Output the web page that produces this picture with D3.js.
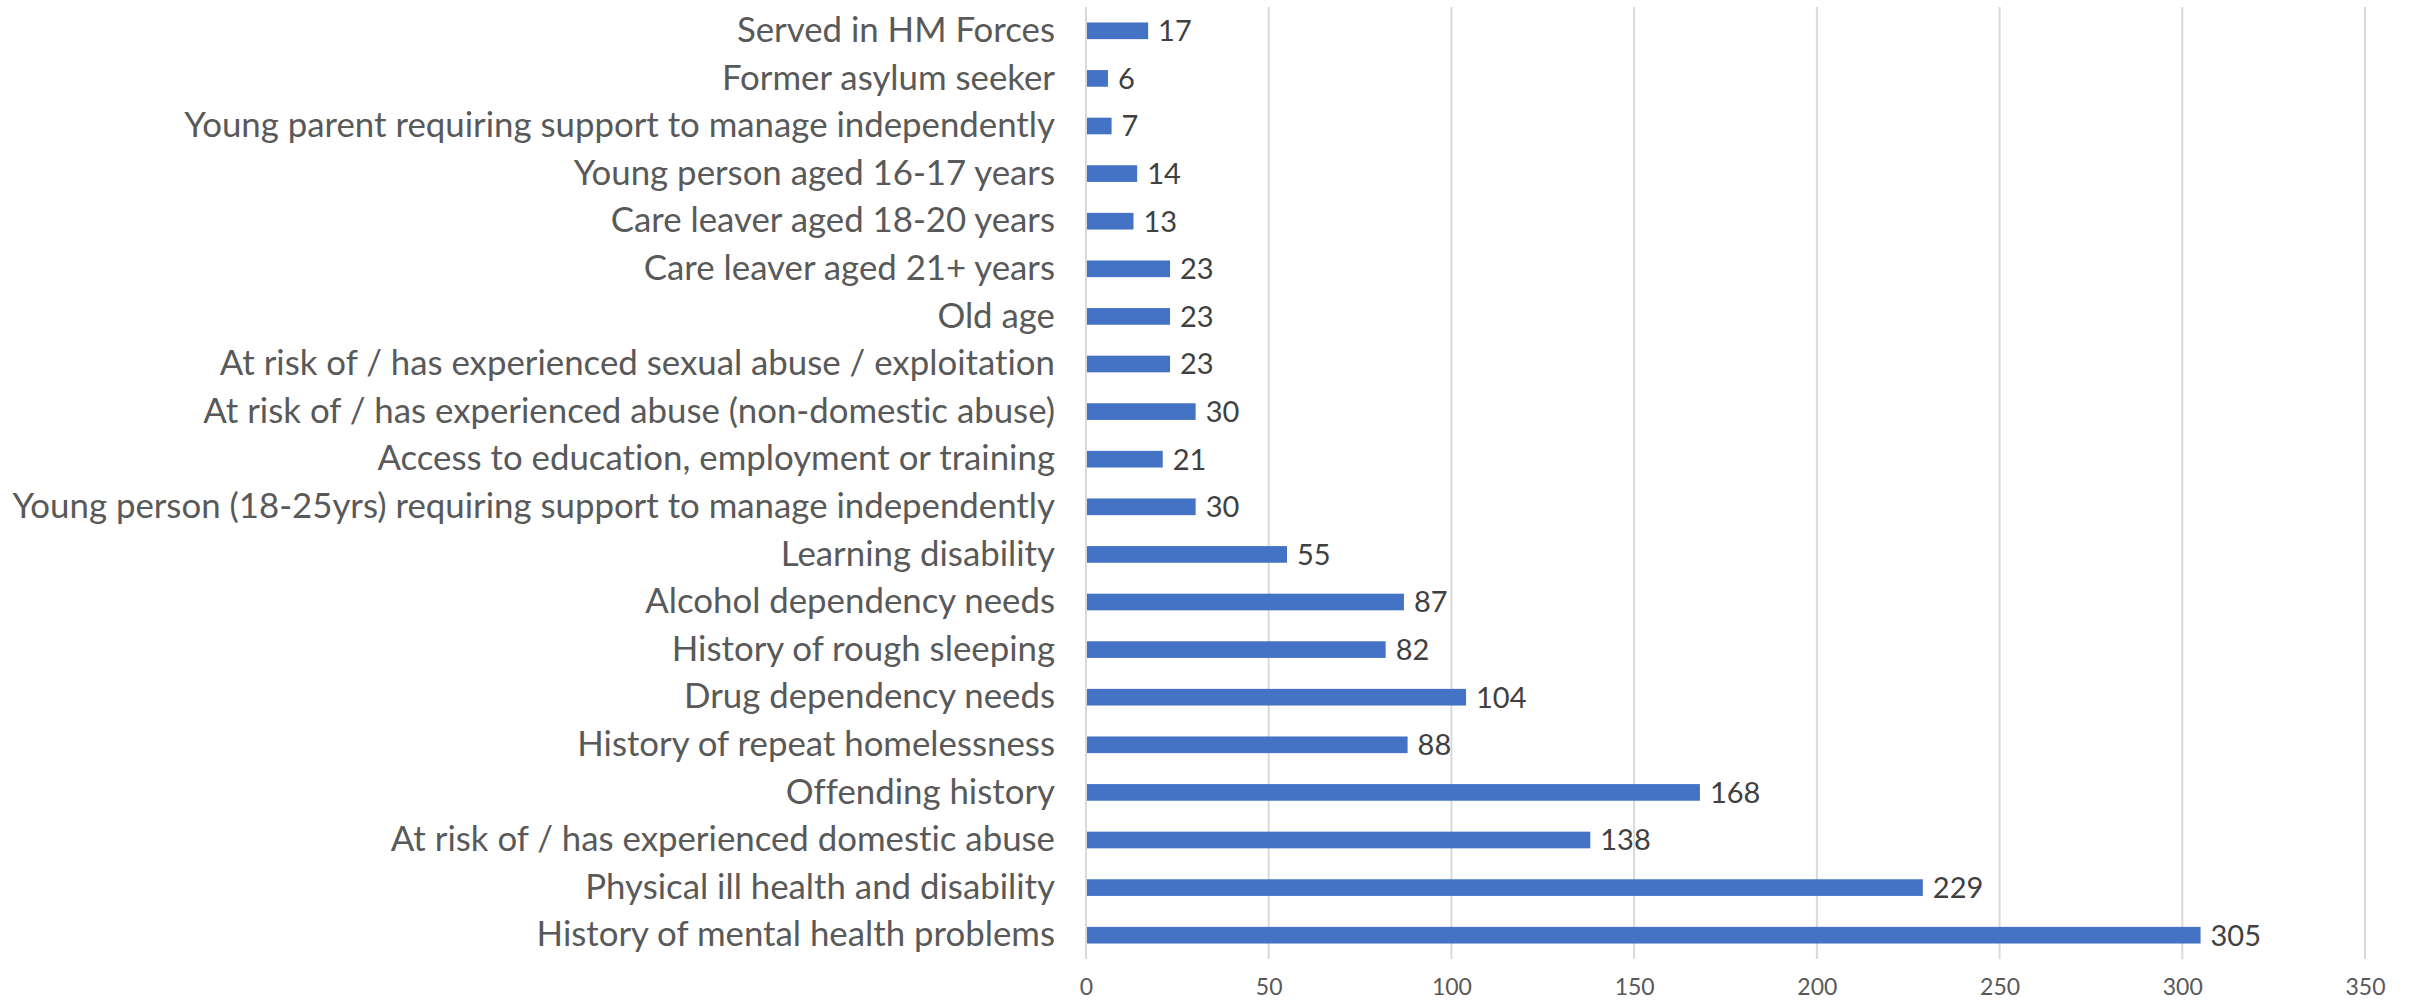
<!DOCTYPE html>
<html>
<head>
<meta charset="utf-8">
<script src="https://cdn.jsdelivr.net/npm/d3@7"></script>
<style>
  body { margin: 0; background: #fff; }
  text { font-family: Lato, "Open Sans", sans-serif; font-variant-ligatures: none; }
</style>
</head>
<body>
<div id="chart"></div>
<script>
// categories top to bottom
const categories = [
  "Served in HM Forces",
  "Former asylum seeker",
  "Young parent requiring support to manage independently",
  "Young person aged 16-17 years",
  "Care leaver aged 18-20 years",
  "Care leaver aged 21+ years",
  "Old age",
  "At risk of / has experienced sexual abuse / exploitation",
  "At risk of / has experienced abuse (non-domestic abuse)",
  "Access to education, employment or training",
  "Young person (18-25yrs) requiring support to manage independently",
  "Learning disability",
  "Alcohol dependency needs",
  "History of rough sleeping",
  "Drug dependency needs",
  "History of repeat homelessness",
  "Offending history",
  "At risk of / has experienced domestic abuse",
  "Physical ill health and disability",
  "History of mental health problems"
];
const values = [17, 6, 7, 14, 13, 23, 23, 23, 30, 21, 30, 55, 87, 82, 104, 88, 168, 138, 229, 305];
const xTicks = [0, 50, 100, 150, 200, 250, 300, 350];

const W = 2412, H = 1001;
const margin = { top: 7, right: 47, bottom: 42, left: 1086 };
const width = W - margin.left - margin.right;
const height = H - margin.top - margin.bottom;

const data = categories.map((c, i) => ({ name: c, value: values[i] }));

const svg = d3.select("#chart").append("svg")
  .attr("width", W).attr("height", H);
const g = svg.append("g").attr("transform", `translate(${margin.left},${margin.top})`);

const x = d3.scaleLinear().domain([0, 350]).range([0, width]);
const y = d3.scaleBand().domain(categories).range([0, height]).paddingInner(0.65).paddingOuter(0.325);

// gridlines
g.selectAll(".grid").data(xTicks).enter().append("line")
  .attr("x1", d => x(d)).attr("x2", d => x(d))
  .attr("y1", 0).attr("y2", height)
  .attr("stroke", "#d9d9d9").attr("stroke-width", 2);

// bars
g.selectAll(".bar").data(data).enter().append("rect")
  .attr("x", x(0) + 1)
  .attr("y", d => y(d.name))
  .attr("width", d => x(d.value) - x(0) - 1)
  .attr("height", y.bandwidth())
  .attr("fill", "#4472C4");

// value labels
g.selectAll(".val").data(data).enter().append("text")
  .attr("x", d => x(d.value) + 10)
  .attr("y", d => y(d.name) + y.bandwidth() / 2)
  .attr("dy", "0.36em")
  .attr("font-size", 29)
  .attr("fill", "#404040")
  .text(d => d.value);

// category axis
const yAxis = g.append("g").call(d3.axisLeft(y).tickSize(0).tickPadding(31));
yAxis.select(".domain").remove();
yAxis.selectAll("text")
  .attr("font-size", 34.8)
  .attr("fill", "#595959")
  .attr("font-family", "Lato, 'Open Sans', sans-serif");

// value axis
const xAxis = g.append("g").attr("transform", `translate(0,${height})`)
  .call(d3.axisBottom(x).tickValues(xTicks).tickSize(0).tickPadding(20));
xAxis.select(".domain").remove();
xAxis.selectAll("text")
  .attr("font-size", 23)
  .attr("fill", "#595959")
  .attr("font-family", "Lato, 'Open Sans', sans-serif");
</script>
</body>
</html>
